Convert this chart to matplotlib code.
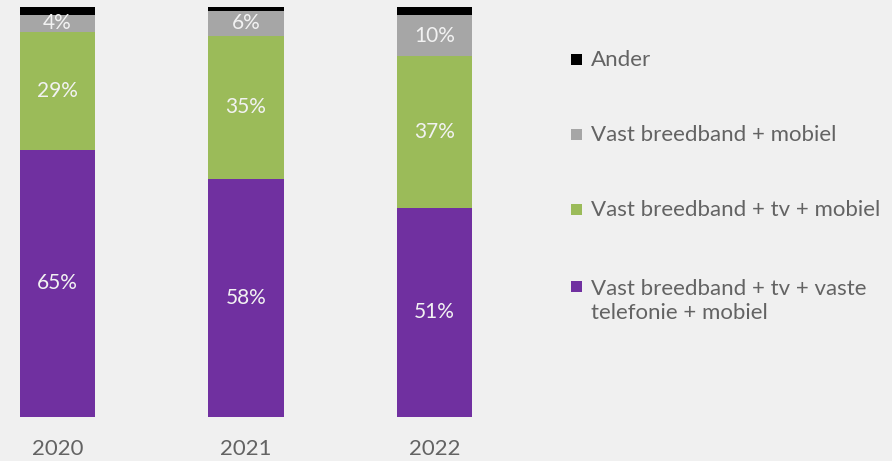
import matplotlib
matplotlib.use("Agg")
import matplotlib.pyplot as plt
from matplotlib.patches import Rectangle

years = ["2020", "2021", "2022"]
series_names = [
    "Vast breedband + tv + vaste\ntelefonie + mobiel",
    "Vast breedband + tv + mobiel",
    "Vast breedband + mobiel",
    "Ander",
]
bb_tv_tel_mob = [65, 58, 51]
bb_tv_mob = [29, 35, 37]
bb_mob = [4, 6, 10]
ander = [2, 1, 2]
colors = ["#7030a0", "#9bbb59", "#a6a6a6", "#000000"]
show_labels = [True, True, True, False]

bg = "#f0f0f0"
text_col = "#636363"
plt.rcParams["font.family"] = ["Lato", "DejaVu Sans"]

fig = plt.figure(figsize=(8.92, 4.61), dpi=100, facecolor=bg)
ax = fig.add_axes([19.8 / 892, (461 - 416.5) / 461, 452.4 / 892, 409.5 / 461])
ax.set_facecolor(bg)

x = list(range(len(years)))
bottom = [0] * len(years)
all_series = [bb_tv_tel_mob, bb_tv_mob, bb_mob, ander]
for vals, col, lab in zip(all_series, colors, show_labels):
    ax.bar(x, vals, width=0.4, bottom=bottom, color=col, linewidth=0)
    if lab:
        for xi, v, b in zip(x, vals, bottom):
            ax.text(xi, b + v / 2, f"{v}%", ha="center", va="center",
                    color="#f2f2f2", fontsize=15)
    bottom = [b + v for b, v in zip(bottom, vals)]

ax.set_xlim(-0.2, 2.2)
ax.set_ylim(0, 100)
ax.set_yticks([])
ax.set_xticks(x)
ax.set_xticklabels(years, fontsize=16, color=text_col)
ax.tick_params(axis="x", length=0, pad=16)
for s in ax.spines.values():
    s.set_visible(False)

# legend, drawn top to bottom
legend_rows = [(3, 60), (2, 135), (1, 210), (0, 287)]
for idx, ycen in legend_rows:
    fig.patches.append(Rectangle((571 / 892, (461 - ycen - 5) / 461), 11 / 892, 11 / 461,
                                 transform=fig.transFigure, facecolor=colors[idx],
                                 edgecolor="none"))
    if idx == 0:
        fig.text(591 / 892, (461 - ycen - 14) / 461, series_names[idx], ha="left",
                 va="center", color=text_col, fontsize=16, linespacing=1.25)
    else:
        fig.text(591 / 892, (461 - ycen) / 461, series_names[idx], ha="left",
                 va="center", color=text_col, fontsize=16)

fig.savefig("out.png", dpi=100, facecolor=bg)
